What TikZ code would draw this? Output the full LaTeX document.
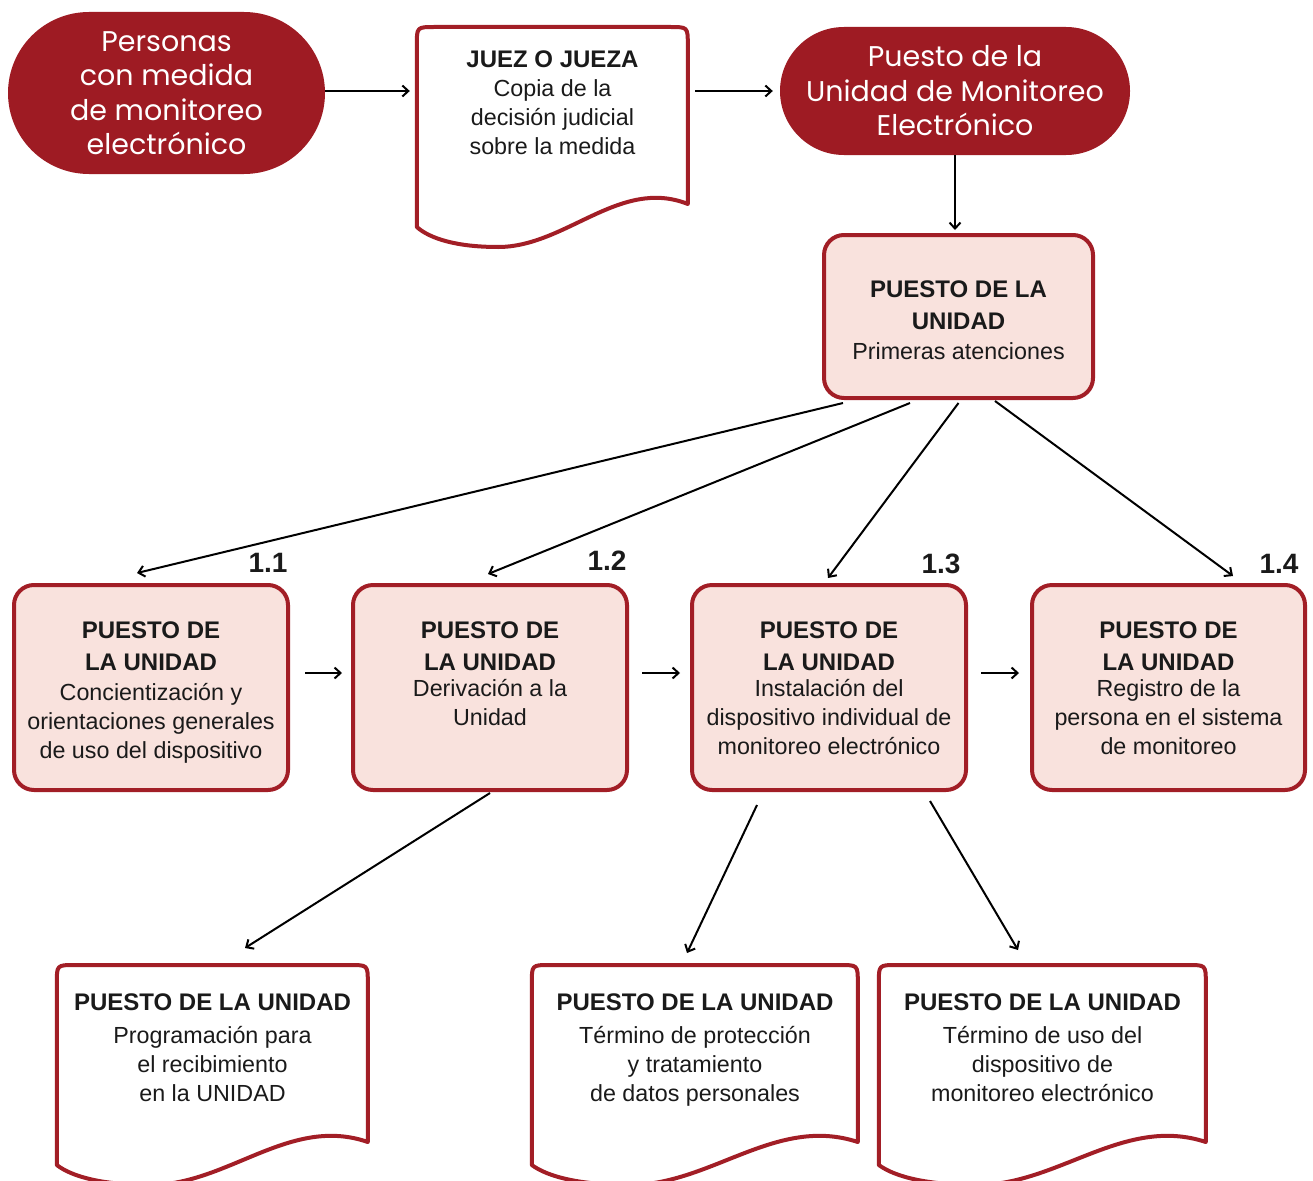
\documentclass[tikz,border=0pt]{standalone}
\usepackage{fontspec}
\setmainfont{Liberation Sans}
\newfontfamily\pillfont{Poppins}
\usetikzlibrary{arrows.meta,shapes.misc,calc}

\definecolor{dred}{RGB}{158,27,35}
\definecolor{bred}{RGB}{162,30,38}
\definecolor{pinkfill}{RGB}{249,226,221}
\definecolor{ink}{RGB}{26,26,26}

% bold heading inside the boxes
\newcommand\hd[1]{{\bfseries\fontsize{24}{29}\selectfont #1}}
% top-aligned text block of the step boxes
\newcommand\boxtext[1]{\parbox[c][190pt][t]{270pt}{\vspace*{29pt}\centering #1\par}}
% top-aligned text block: #1 box height, #2 top gap, #3 width, #4 text
\newcommand\topblock[4]{\parbox[c][#1][t]{#3}{\vspace*{#2}\centering #4\par}}
% top-aligned text block of the document shapes: #1 top gap, #2 width, #3 text
\newcommand\doctext[3]{\parbox[c][200pt][t]{#2}{\vspace*{#1}\centering #3\par}}
% outline of a document shape (wavy bottom) around node #1 of width #2
\newcommand\docshape[2]{%
  \draw[docline] ($(#1.north west)+(0,200)$) -- ($(#1.north west)+(0,18)$)
    .. controls (#1.north west) .. ($(#1.north west)+(18,0)$)
    -- ($(#1.north west)+({#2-18},0)$)
    .. controls ($(#1.north west)+(#2,0)$) .. ($(#1.north west)+(#2,18)$)
    -- ($(#1.north west)+(#2,177)$)
    .. controls ($(#1.north west)+({0.75*#2},150)$) and ($(#1.north west)+({0.55*#2},220)$) .. ($(#1.north west)+({0.3*#2},220)$)
    .. controls ($(#1.north west)+({0.15*#2},220)$) and ($(#1.north west)+({0.05*#2},212)$) .. cycle;}

\tikzset{
  pill/.style={rounded rectangle, fill=dred, text=white, inner sep=0pt,
    font=\pillfont\fontsize{28.5}{34.5}\selectfont, align=center},
  stepbox/.style={draw=bred, line width=4pt, fill=pinkfill, rounded corners=20pt,
    inner sep=0pt, text=ink, font=\fontsize{23.3}{29}\selectfont},
  docnode/.style={anchor=north, minimum height=200pt, inner sep=0pt, text=ink,
    font=\fontsize{23.3}{29}\selectfont},
  docline/.style={draw=bred, line width=4pt, line join=round},
  lbl/.style={text=ink, font=\bfseries\fontsize{28}{30}\selectfont, inner sep=0pt},
  arr/.style={draw=black, line width=2pt, -{Straight Barb[length=6pt,width=11pt]}}
}

\begin{document}
\begin{tikzpicture}[x=1pt,y=-1pt]
\useasboundingbox (0,0) rectangle (1313,1180);
\clip (0,0) rectangle (1313,1180);

% top row
\node[pill, minimum width=317pt, minimum height=162pt] (pers) at (166.5,93)
  {Personas\\con medida\\de monitoreo\\electrónico};
\node[docnode, minimum width=271pt] (jz) at (552.5,27)
  {\doctext{23.5pt}{265pt}{\hd{JUEZ O JUEZA}\\ Copia de la\\ decisión judicial\\ sobre la medida}};
\docshape{jz}{271}
\node[pill, minimum width=350pt, minimum height=128pt] (pun) at (955,91)
  {Puesto de la\\Unidad de Monitoreo\\Electrónico};

% first attention
\node[stepbox, minimum width=269pt, minimum height=163pt] (prim) at (958.5,316.5)
  {\topblock{150pt}{39pt}{265pt}{\hd{PUESTO DE LA}\\[3pt]\hd{UNIDAD}\\[1pt]Primeras atenciones}};

% step boxes
\node[stepbox, minimum width=274pt, minimum height=205pt] (b1) at (151,687.5)
  {\boxtext{\hd{PUESTO DE}\\[3pt]\hd{LA UNIDAD}\\[1pt]Concientización y\\orientaciones generales\\de uso del dispositivo}};
\node[stepbox, minimum width=274pt, minimum height=205pt] (b2) at (490,687.5)
  {\boxtext{\hd{PUESTO DE}\\[3pt]\hd{LA UNIDAD}\\[-3pt]Derivación a la\\Unidad}};
\node[stepbox, minimum width=274pt, minimum height=205pt] (b3) at (829,687.5)
  {\boxtext{\hd{PUESTO DE}\\[3pt]\hd{LA UNIDAD}\\[-3pt]Instalación del\\dispositivo individual de\\monitoreo electrónico}};
\node[stepbox, minimum width=273pt, minimum height=205pt] (b4) at (1168.5,687.5)
  {\boxtext{\hd{PUESTO DE}\\[3pt]\hd{LA UNIDAD}\\[-3pt]Registro de la\\persona en el sistema\\de monitoreo}};

\node[lbl] (n11) at (268,563) {1.1};
\node[lbl] (n12) at (607,561) {1.2};
\node[lbl] (n13) at (941,564) {1.3};
\node[lbl] (n14) at (1279,564) {1.4};

% documents at the bottom
\node[docnode, minimum width=311pt] (d1) at (212.5,965)
  {\doctext{28.5pt}{305pt}{\hd{PUESTO DE LA UNIDAD}\\[4pt]Programación para\\el recibimiento\\en la UNIDAD}};
\docshape{d1}{311}
\node[docnode, minimum width=326pt] (d2) at (695,965)
  {\doctext{28.5pt}{320pt}{\hd{PUESTO DE LA UNIDAD}\\[4pt]Término de protección\\y tratamiento\\de datos personales}};
\docshape{d2}{326}
\node[docnode, minimum width=327pt] (d3) at (1042.5,965)
  {\doctext{28.5pt}{320pt}{\hd{PUESTO DE LA UNIDAD}\\[4pt]Término de uso del\\dispositivo de\\monitoreo electrónico}};
\docshape{d3}{327}

% connectors
\draw[arr, shorten >=7pt] (pers.east |- pun.west) -- (pun.west -| jz.west);
\draw[arr, shorten <=7pt, shorten >=7pt] (jz.east |- pun.west) -- (pun.west);
\draw[arr, shorten >=3pt] (pun.south) -- (pun.south |- prim.north);

\draw[arr] ([xshift=-115.5pt,yshift=-3pt]prim.south) -- ([xshift=-14pt,yshift=10pt]b1.north);
\draw[arr] ([xshift=-48.5pt,yshift=-3pt]prim.south) -- ([xshift=-2pt,yshift=9pt]b2.north);
\draw[arr] ([yshift=-3pt]prim.south) -- ([xshift=-1pt,yshift=5pt]b3.north);
\draw[arr] ([xshift=36.5pt,yshift=-1pt]prim.south) -- ([xshift=64.5pt,yshift=7pt]b4.north);

\draw[arr] ([xshift=15pt,yshift=14.5pt]b1.east) -- ([xshift=-9pt,yshift=14.5pt]b2.west);
\draw[arr] ([xshift=13pt,yshift=14.5pt]b2.east) -- ([xshift=-10pt,yshift=14.5pt]b3.west);
\draw[arr] ([xshift=13pt,yshift=14.5pt]b3.east) -- ([xshift=-11pt,yshift=14.5pt]b4.west);

\draw[arr] ([yshift=-1pt]b2.south) -- ([xshift=32.5pt,yshift=17pt]d1.north);
\draw[arr] ([xshift=-72pt,yshift=-13pt]b3.south) -- ([xshift=-8pt,yshift=12pt]d2.north);
\draw[arr] ([xshift=101pt,yshift=-9pt]b3.south) -- ([xshift=-24.5pt,yshift=15pt]d3.north);
\end{tikzpicture}
\end{document}
